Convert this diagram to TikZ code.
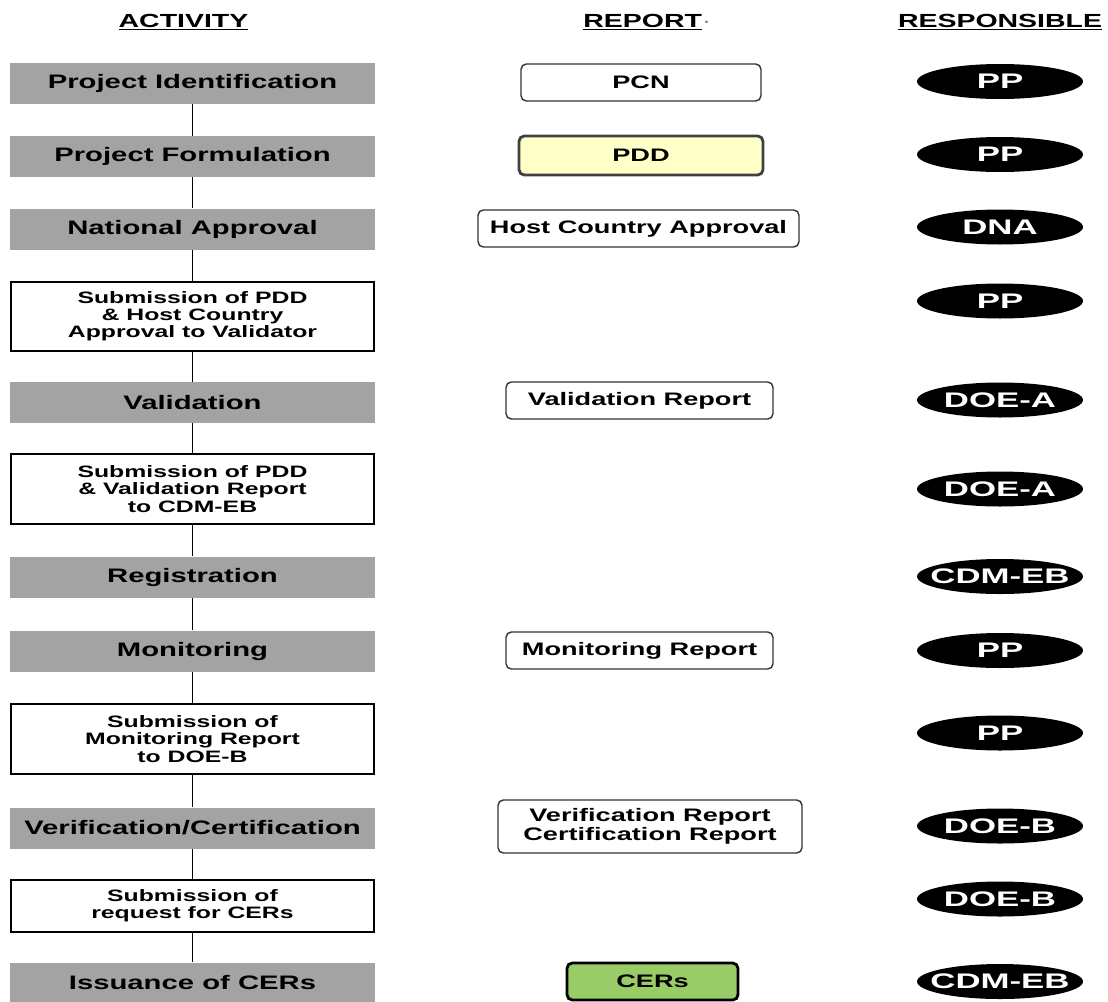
\documentclass[tikz,border=0pt]{standalone}
\usepackage{fontspec}
\usepackage{tikz}
\usetikzlibrary{shapes.geometric}
\newfontfamily\flowfont[FakeStretch=1.5]{Liberation Sans}
\newfontfamily\ovalfont[FakeStretch=1.65]{Liberation Sans}
\definecolor{stepgray}{HTML}{A3A3A3}
\definecolor{pddyellow}{HTML}{FFFFC8}
\definecolor{pddedge}{HTML}{404040}
\definecolor{cergreen}{HTML}{99CC66}

\begin{document}
\begin{tikzpicture}[x=0.02cm, y=-0.02cm,
        head/.style = {inner sep=0, anchor=base, font=\flowfont\bfseries\fontsize{10.8}{13}\selectfont},
        grey/.style = {fill=stepgray, minimum width=7.3cm, minimum height=0.82cm, inner sep=0, font=\flowfont\bfseries\fontsize{11.1}{13}\selectfont},
        sub/.style = {draw, line width=1pt, fill=white, minimum width=7.26cm, inner sep=0, align=center, font=\flowfont\bfseries\fontsize{9.4}{9.8}\selectfont},
        rep/.style = {draw=black!80, line width=0.8pt, rounded corners=3pt, fill=white, minimum height=0.74cm, inner sep=0, align=center, font=\flowfont\bfseries\fontsize{10.3}{10.8}\selectfont},
        resp/.style = {ellipse, fill=black, text=white, minimum width=3.32cm, minimum height=0.7cm, inner ysep=0, inner xsep=-0.22cm, font=\ovalfont\bfseries\fontsize{12}{14}\selectfont}]
        \useasboundingbox (0, 0) rectangle (1108, 1001);
        \node[head] at (183.5, 27) (hact) {\underline{ACTIVITY}};
        \node[head, anchor=base west] at (583, 27) (hrep) {\underline{REPORT}\textcolor{gray}{\mdseries\textperiodcentered}};
        \node[head] at (1000, 27) (hresp) {\underline{RESPONSIBLE}};
        \node[grey] at (192.5, 83.5) (a1) {Project Identification};
        \node[grey] at (192.5, 156.5) (a2) {Project Formulation};
        \node[grey] at (192.5, 229) (a3) {National Approval};
        \node[sub, minimum height=1.38cm] at (192.5, 316.5) (a4) {Submission of PDD\\\& Host Country\\Approval to Validator};
        \node[grey] at (192.5, 402.5) (a5) {Validation};
        \node[sub, minimum height=1.4cm] at (192.5, 489) (a6) {Submission of PDD\\\& Validation Report\\to CDM-EB};
        \node[grey] at (192.5, 577) (a7) {Registration};
        \node[grey] at (192.5, 651) (a8) {Monitoring};
        \node[sub, minimum height=1.4cm] at (192.5, 739) (a9) {Submission of\\Monitoring Report\\to DOE-B};
        \node[grey] at (192.5, 828) (a10) {Verification/Certification};
        \node[sub, minimum height=1.04cm] at (192.5, 906) (a11) {Submission of\\request for CERs};
        \node[grey] at (192.5, 983) (a12) {Issuance of CERs};
        \node[rep, minimum width=4.8cm] at (641, 82.5) (pcn) {PCN};
        \node[rep, draw=pddedge, line width=1.6pt, fill=pddyellow, minimum width=4.88cm, minimum height=0.78cm] at (641, 155.5) (pdd) {PDD};
        \node[rep, minimum width=6.42cm] at (638.5, 228.5) (hca) {Host Country Approval};
        \node[rep, minimum width=5.34cm] at (639.5, 400.5) (valrep) {Validation Report};
        \node[rep, minimum width=5.34cm] at (639.5, 650.5) (monrep) {Monitoring Report};
        \node[rep, minimum width=6.08cm, minimum height=1.06cm] at (650, 826.5) (verrep) {Verification Report\\Certification Report};
        \node[rep, draw=black, line width=1.6pt, fill=cergreen, minimum width=3.42cm] at (652.5, 981.5) (cers) {CERs};
        \node[resp] at (1000, 81.5) (r1) {PP};
        \node[resp] at (1000, 154.5) (r2) {PP};
        \node[resp] at (1000, 227) (r3) {DNA};
        \node[resp] at (1000, 301) (r4) {PP};
        \node[resp] at (1000, 400) (r5) {DOE-A};
        \node[resp] at (1000, 489) (r6) {DOE-A};
        \node[resp] at (1000, 576.5) (r7) {CDM-EB};
        \node[resp] at (1000, 650.5) (r8) {PP};
        \node[resp] at (1000, 733) (r9) {PP};
        \node[resp] at (1000, 826) (r10) {DOE-B};
        \node[resp] at (1000, 899) (r11) {DOE-B};
        \node[resp] at (1000, 981.5) (r12) {CDM-EB};
        \draw[line width=1pt] (a1) -- (a2);
        \draw[line width=1pt] (a2) -- (a3);
        \draw[line width=1pt] (a3) -- (a4);
        \draw[line width=1pt] (a4) -- (a5);
        \draw[line width=1pt] (a5) -- (a6);
        \draw[line width=1pt] (a6) -- (a7);
        \draw[line width=1pt] (a7) -- (a8);
        \draw[line width=1pt] (a8) -- (a9);
        \draw[line width=1pt] (a9) -- (a10);
        \draw[line width=1pt] (a10) -- (a11);
        \draw[line width=1pt] (a11) -- (a12);
\end{tikzpicture}
\end{document}
